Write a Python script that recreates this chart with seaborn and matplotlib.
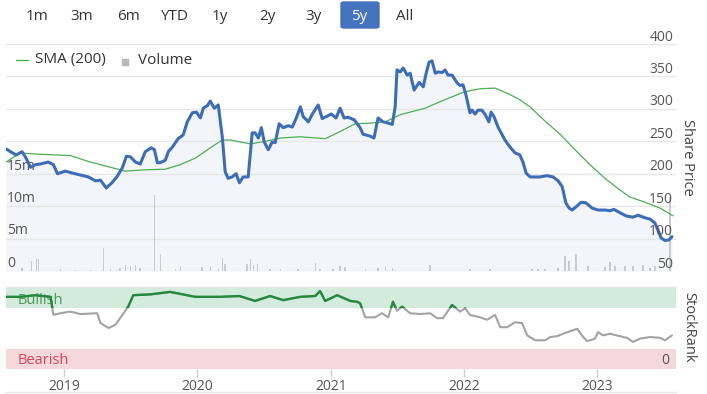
import numpy as np
import pandas as pd
import matplotlib
matplotlib.use("Agg")
import matplotlib.pyplot as plt
import matplotlib.dates as mdates
from matplotlib.lines import Line2D
from matplotlib.patches import Rectangle, FancyBboxPatch
import seaborn as sns

# Share price (pence)
price_dates = [
    "2018-07-26", "2018-08-06", "2018-08-22", "2018-09-07", "2018-09-18", "2018-09-30",
    "2018-10-14", "2018-10-27", "2018-11-18", "2018-12-02", "2018-12-13", "2019-01-04",
    "2019-01-23", "2019-02-14", "2019-03-08", "2019-03-27", "2019-04-10", "2019-04-26",
    "2019-05-13", "2019-05-26", "2019-06-09", "2019-06-20", "2019-07-01", "2019-07-15",
    "2019-07-28", "2019-08-11", "2019-08-27", "2019-09-05", "2019-09-13", "2019-09-21",
    "2019-10-05", "2019-10-13", "2019-10-24", "2019-11-09", "2019-11-23", "2019-12-04",
    "2019-12-18", "2019-12-29", "2020-01-09", "2020-01-17", "2020-01-28", "2020-02-05",
    "2020-02-16", "2020-02-27", "2020-03-09", "2020-03-17", "2020-03-25", "2020-04-05",
    "2020-04-16", "2020-04-25", "2020-05-05", "2020-05-19", "2020-05-30", "2020-06-07",
    "2020-06-16", "2020-06-24", "2020-07-02", "2020-07-13", "2020-07-24", "2020-08-01",
    "2020-08-12", "2020-08-23", "2020-09-06", "2020-09-17", "2020-09-28", "2020-10-09",
    "2020-10-17", "2020-10-31", "2020-11-11", "2020-11-27", "2020-12-08", "2020-12-22",
    "2021-01-02", "2021-01-15", "2021-01-26", "2021-02-06", "2021-02-17", "2021-03-06",
    "2021-03-22", "2021-03-30", "2021-04-18", "2021-04-29", "2021-05-10", "2021-05-24",
    "2021-06-07", "2021-06-18", "2021-06-26", "2021-07-01", "2021-07-10", "2021-07-18",
    "2021-07-29", "2021-08-06", "2021-08-17", "2021-08-31", "2021-09-11", "2021-09-19",
    "2021-09-27", "2021-10-05", "2021-10-14", "2021-10-22", "2021-11-02", "2021-11-10",
    "2021-11-18", "2021-11-29", "2021-12-13", "2021-12-21", "2021-12-29", "2022-01-06",
    "2022-01-17", "2022-01-23", "2022-01-31", "2022-02-08", "2022-02-19", "2022-02-28",
    "2022-03-10", "2022-03-16", "2022-03-24", "2022-04-04", "2022-04-23", "2022-05-07",
    "2022-05-21", "2022-06-03", "2022-06-12", "2022-06-20", "2022-07-01", "2022-07-28",
    "2022-08-16", "2022-09-02", "2022-09-16", "2022-09-27", "2022-10-07", "2022-10-16",
    "2022-10-24", "2022-11-04", "2022-11-18", "2022-12-01", "2022-12-18", "2023-01-03",
    "2023-01-22", "2023-02-05", "2023-02-16", "2023-03-04", "2023-03-21", "2023-04-09",
    "2023-04-23", "2023-05-12", "2023-05-26", "2023-06-08", "2023-06-17", "2023-06-25",
    "2023-07-06", "2023-07-17", "2023-07-25",
]
price = [
    238, 234, 229, 234, 224, 210, 214, 215, 218, 214, 200, 204,
    201, 198, 195, 189, 190, 178, 187, 196, 209, 227, 226, 218,
    215, 234, 240, 237, 217, 217, 221, 234, 241, 254, 260, 280,
    294, 295, 286, 301, 305, 312, 301, 306, 257, 203, 193, 195,
    200, 186, 195, 195, 263, 263, 255, 271, 249, 237, 249, 248,
    277, 271, 274, 272, 286, 303, 288, 280, 292, 306, 285, 289,
    292, 286, 301, 286, 287, 283, 271, 261, 258, 255, 286, 280,
    278, 276, 303, 360, 357, 363, 352, 355, 329, 341, 334, 355,
    372, 374, 355, 357, 356, 360, 352, 352, 340, 336, 337, 322,
    294, 298, 292, 298, 298, 291, 280, 295, 288, 272, 252, 241,
    232, 229, 217, 201, 195, 195, 197, 195, 189, 180, 155, 147,
    144, 149, 156, 155, 147, 144, 144, 143, 145, 140, 135, 133,
    136, 132, 130, 124, 113, 101, 97, 98, 103,
]

# 200-day simple moving average
sma_dates = [
    "2018-07-26", "2018-09-01", "2018-10-27", "2019-01-17", "2019-03-13", "2019-05-07",
    "2019-06-17", "2019-08-11", "2019-10-05", "2019-11-15", "2019-12-26", "2020-02-05",
    "2020-03-09", "2020-03-31", "2020-05-25", "2020-06-27", "2020-08-15", "2020-10-09",
    "2020-12-16", "2021-01-26", "2021-03-08", "2021-04-18", "2021-05-30", "2021-07-10",
    "2021-09-16", "2021-10-27", "2021-12-27", "2022-01-17", "2022-02-14", "2022-03-27",
    "2022-05-07", "2022-06-03", "2022-07-01", "2022-08-11", "2022-09-21", "2022-11-01",
    "2022-12-12", "2023-01-22", "2023-03-04", "2023-04-01", "2023-05-12", "2023-06-22",
    "2023-07-28",
]
sma = [
    218, 232, 230, 228, 218, 210, 204, 206, 207, 214, 224, 240,
    252, 252, 246, 249, 255, 257, 254, 265, 277, 278, 280, 291,
    301, 311, 325, 328, 331, 332, 322, 314, 303, 281, 261, 237,
    214, 193, 175, 164, 156, 147, 135,
]

# Daily volume (millions of shares), visible bars only
vol_dates = [
    "2018-09-07", "2018-10-03", "2018-10-16", "2018-10-22", "2018-12-21", "2019-01-31",
    "2019-03-13", "2019-04-18", "2019-05-07", "2019-06-03", "2019-06-17", "2019-07-01",
    "2019-07-15", "2019-07-28", "2019-09-05", "2019-09-21", "2019-11-01", "2019-11-15",
    "2020-01-14", "2020-02-05", "2020-02-27", "2020-03-09", "2020-03-17", "2020-05-16",
    "2020-05-25", "2020-06-02", "2020-06-13", "2020-07-18", "2020-08-15", "2020-10-03",
    "2020-11-19", "2020-12-02", "2021-01-07", "2021-01-26", "2021-02-09", "2021-04-05",
    "2021-05-10", "2021-05-30", "2021-06-18", "2021-09-30", "2022-01-17", "2022-03-13",
    "2022-07-06", "2022-07-23", "2022-08-11", "2022-09-16", "2022-10-05", "2022-10-16",
    "2022-11-04", "2022-12-07", "2023-01-22", "2023-02-05", "2023-02-19", "2023-03-18",
    "2023-04-09", "2023-05-06", "2023-05-26", "2023-06-08", "2023-07-19",
]
volume = [
    0.5, 1.5, 1.9, 1.9, 0.3, 0.2, 0.2, 3.5, 0.3, 0.5, 1.0, 0.7,
    1.0, 0.4, 11.7, 2.6, 0.3, 0.6, 0.6, 0.6, 0.3, 2.0, 1.1, 1.1,
    1.8, 0.9, 1.1, 0.3, 0.3, 0.3, 1.2, 0.3, 0.3, 0.8, 0.6, 0.3,
    0.4, 0.6, 0.5, 1.0, 0.3, 0.3, 0.3, 0.3, 0.3, 0.5, 2.3, 1.5,
    2.6, 0.8, 0.6, 1.4, 0.8, 0.8, 0.8, 1.0, 0.5, 0.8, 11.4,
]

# StockRank (0-100)
rank_dates = [
    "2018-07-26", "2018-09-01", "2018-10-14", "2018-11-24", "2018-12-02", "2018-12-21",
    "2019-01-17", "2019-02-14", "2019-04-01", "2019-04-10", "2019-05-02", "2019-05-21",
    "2019-06-03", "2019-06-25", "2019-07-09", "2019-08-25", "2019-10-18", "2019-12-26",
    "2020-03-03", "2020-04-25", "2020-06-07", "2020-07-18", "2020-08-23", "2020-10-09",
    "2020-11-19", "2020-12-02", "2020-12-16", "2021-01-18", "2021-02-23", "2021-03-14",
    "2021-03-22", "2021-04-05", "2021-05-02", "2021-05-21", "2021-06-07", "2021-06-20",
    "2021-07-01", "2021-07-15", "2021-08-06", "2021-09-02", "2021-09-30", "2021-10-19",
    "2021-11-04", "2021-11-29", "2021-12-21", "2022-01-04", "2022-01-17", "2022-02-14",
    "2022-03-05", "2022-03-27", "2022-04-10", "2022-04-29", "2022-05-21", "2022-06-09",
    "2022-06-23", "2022-07-15", "2022-08-11", "2022-08-25", "2022-09-13", "2022-10-05",
    "2022-11-07", "2022-11-20", "2022-12-04", "2022-12-26", "2023-01-03", "2023-01-17",
    "2023-02-05", "2023-03-04", "2023-03-24", "2023-04-09", "2023-04-28", "2023-05-26",
    "2023-06-22", "2023-07-06", "2023-07-25",
]
rank = [
    88, 88, 90, 88, 66, 68, 70, 67, 68, 56, 50, 54,
    62, 76, 90, 91, 94, 88, 88, 89, 83, 89, 84, 88,
    89, 95, 83, 90, 83, 82, 80, 63, 63, 68, 63, 82,
    71, 76, 68, 67, 68, 62, 62, 78, 70, 74, 66, 63,
    60, 66, 51, 51, 57, 56, 41, 35, 35, 39, 40, 44,
    49, 41, 34, 37, 45, 41, 43, 40, 38, 33, 37, 39,
    38, 35, 41,
]

price_ticks = [50, 100, 150, 200, 250, 300, 350, 400]
vol_ticks = [0, 5, 10, 15]
vol_labels = ["0", "5m", "10m", "15m"]
years = ["2019", "2020", "2021", "2022", "2023"]
buttons = ["1m", "3m", "6m", "YTD", "1y", "2y", "3y", "5y", "All"]

price_df = pd.DataFrame({"date": pd.to_datetime(price_dates), "price": price})
sma_df = pd.DataFrame({"date": pd.to_datetime(sma_dates), "sma": sma})
vol_df = pd.DataFrame({"date": pd.to_datetime(vol_dates), "volume": volume})
rank_df = pd.DataFrame({"date": pd.to_datetime(rank_dates), "rank": rank})

sns.set_style("white")
plt.rcParams["font.family"] = ["Open Sans", "DejaVu Sans"]

BLUE = "#3c6db7"
SMA_GREEN = "#4caf50"
GRID = "#e6e6e6"
TXT = "#555555"
xlim = (pd.Timestamp("2018-07-25"), pd.Timestamp("2023-08-05"))

fig = plt.figure(figsize=(7.07, 3.94), dpi=100)
W, H = 707, 394

# --- price panel: three stacked axes (fill/grid, volume, lines)
pos = [6 / W, 123 / H, 670 / W, 227 / H]
axp = fig.add_axes(pos)
axv = axp.twinx()
axl = axp.twinx()
for a in (axp, axv, axl):
    a.set_xlim(*xlim)
    for s in a.spines.values():
        s.set_visible(False)
    a.set_xticks([])
    a.set_yticks([])
axv.patch.set_visible(False)
axl.patch.set_visible(False)
axp.set_ylim(50, 400)
axl.set_ylim(50, 400)
axv.set_ylim(0, 35)

axp.fill_between(price_df["date"], price_df["price"], 50, color="#f3f5fa", lw=0, zorder=1)
for t in price_ticks:
    axp.axhline(t, color=GRID, lw=1, zorder=2)

axv.bar(vol_df["date"], vol_df["volume"], width=4, color="#c8cad2", lw=0)

sns.lineplot(data=sma_df, x="date", y="sma", ax=axl, color=SMA_GREEN, lw=0.9)
sns.lineplot(data=price_df, x="date", y="price", ax=axl, color=BLUE, lw=2.2)
axl.set_xlabel("")
axl.set_ylabel("")
axl.set_xticks([])
axl.set_yticks([])

for t in price_ticks:
    axl.annotate(str(t), xy=(1, t), xycoords=("axes fraction", "data"),
                 xytext=(-2, 5), textcoords="offset points",
                 ha="right", va="center", fontsize=10, color=TXT)
for v, lab in zip(vol_ticks, vol_labels):
    axv.annotate(lab, xy=(0, v), xycoords=("axes fraction", "data"),
                 xytext=(0.7, 5.5), textcoords="offset points",
                 ha="left", va="center", fontsize=10, color=TXT)

fig.text(687 / W, 1 - 157 / H, "Share Price", rotation=270, ha="center", va="center",
         fontsize=10.5, color="#444444")

# legend
fig.add_artist(Line2D([16 / W, 28 / W], [1 - 60 / H] * 2, color=SMA_GREEN, lw=1))
fig.text(35 / W, 1 - 60 / H, "SMA (200)", ha="left", va="center", fontsize=11, color="#333333")
fig.add_artist(Rectangle((122 / W, 1 - 65 / H), 6 / W, 6 / H, color="#b8b8b8",
                         transform=fig.transFigure))
fig.text(138 / W, 1 - 60 / H, "Volume", ha="left", va="center", fontsize=11, color="#333333")

# range buttons
btn_x = [37, 82, 128, 174, 220, 267, 313, 359, 405]
fig.add_artist(FancyBboxPatch((341 / W, 1 - 28 / H), 38 / W, 26 / H,
                              boxstyle="round,pad=0,rounding_size=0.004",
                              color="#4673bd", transform=fig.transFigure))
for bx, lab in zip(btn_x, buttons):
    fig.text(bx / W, 1 - 16.5 / H, lab, ha="center", va="center", fontsize=11,
             color="white" if lab == "5y" else "#333333")

# --- StockRank panel
axr = fig.add_axes([6 / W, 25 / H, 670 / W, 82 / H])
axr.set_xlim(*xlim)
axr.set_ylim(0, 100)
for s in axr.spines.values():
    s.set_visible(False)
axr.axhspan(75, 100, color="#d3ebdc", lw=0, zorder=0)
axr.axhspan(0, 25, color="#f5d8db", lw=0, zorder=0)
axr.axhline(100.5, color=GRID, lw=1, clip_on=False)

sns.lineplot(data=rank_df, x="date", y="rank", ax=axr, color="#a3a3a3", lw=1.5)
sns.lineplot(data=rank_df, x="date", y="rank", ax=axr, color="#238a3b", lw=1.7)
green = axr.lines[-1]
x0, x1 = mdates.date2num(xlim[0]), mdates.date2num(xlim[1])
clip = Rectangle((x0, 75), x1 - x0, 30, transform=axr.transData)
green.set_clip_path(clip)

axr.set_xlabel("")
axr.set_ylabel("")
axr.set_yticks([])
axr.set_xticks(pd.to_datetime([y + "-01-01" for y in years]))
axr.set_xticklabels(years)
axr.tick_params(axis="x", length=6, width=1, color="#cccccc", pad=1.5,
                labelsize=10, labelcolor=TXT, bottom=True)

band_tf = axr.get_yaxis_transform()
axr.text(12 / 670, 84, "Bullish", transform=band_tf,
         ha="left", va="center", fontsize=10.5, color="#4a9a58", zorder=1)
axr.text(12 / 670, 10, "Bearish", transform=band_tf,
         ha="left", va="center", fontsize=10.5, color="#d6455c")
axr.annotate("0", xy=(1, 10), xycoords=("axes fraction", "data"), xytext=(-5, 0),
             textcoords="offset points", ha="right", va="center", fontsize=10, color=TXT)
fig.text(689 / W, 1 - 327 / H, "StockRank", rotation=270, ha="center", va="center",
         fontsize=10.5, color="#444444")

fig.add_artist(Line2D([5 / W, 676 / W], [2 / H] * 2, color=GRID, lw=1))

fig.savefig("out.png", dpi=100)
